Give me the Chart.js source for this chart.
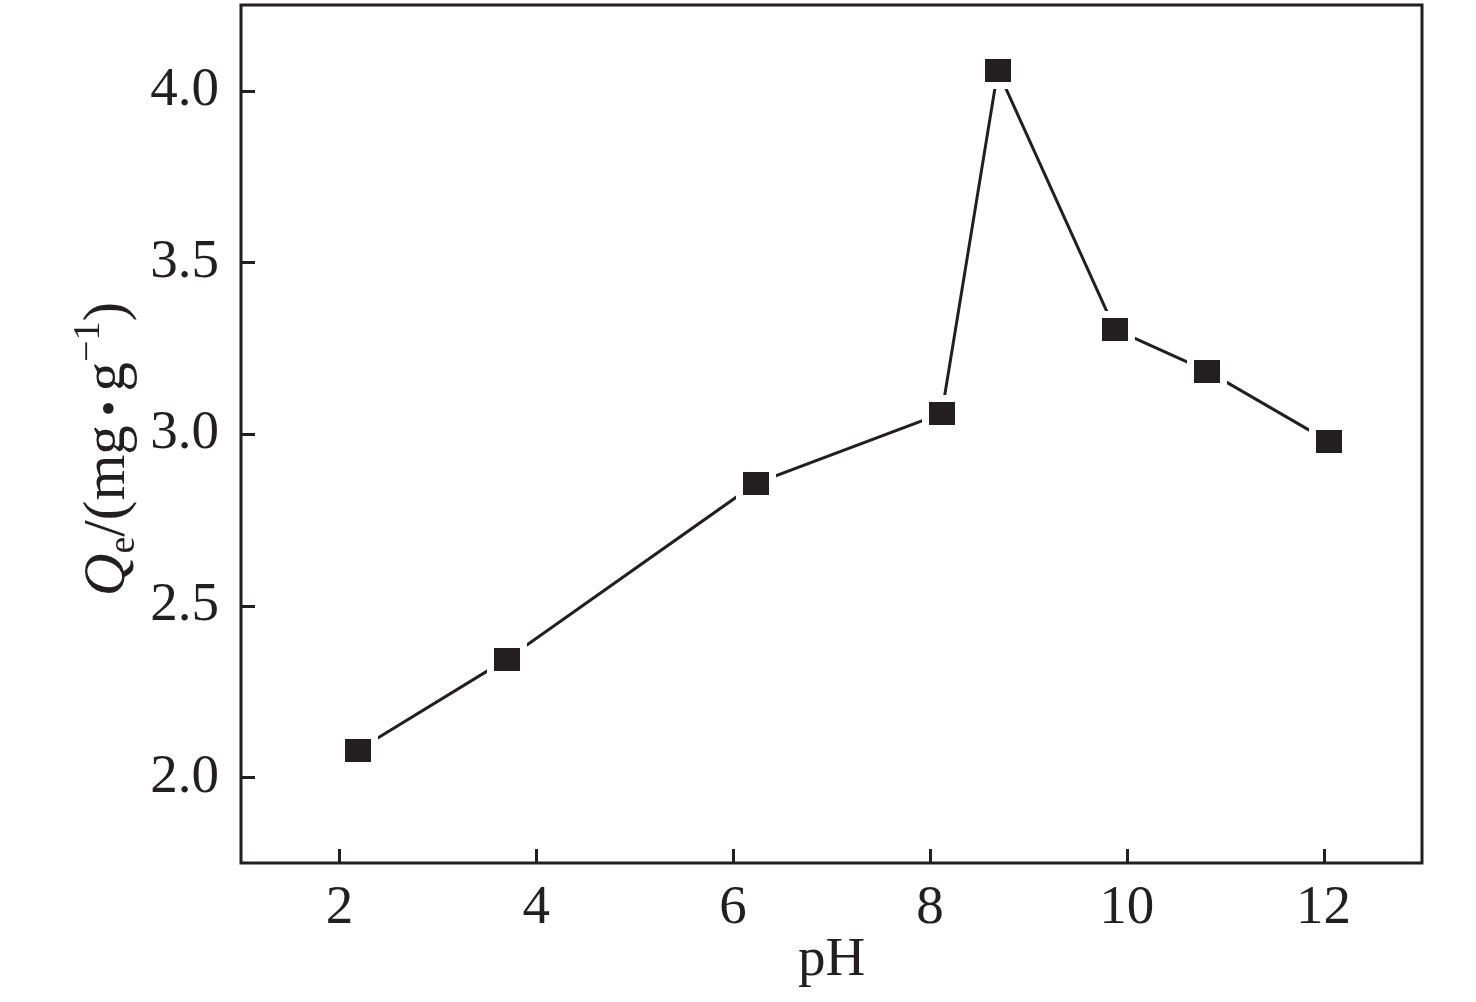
<!DOCTYPE html>
<html>
<head>
<meta charset="utf-8">
<script src="https://cdn.jsdelivr.net/npm/chart.js@4.4.1/dist/chart.umd.min.js"></script>
<style>
  html, body { margin: 0; padding: 0; background: #ffffff; }
  #wrap { width: 1476px; height: 1002px; }
</style>
</head>
<body>
<div id="wrap"><canvas id="c" width="1476" height="1002"></canvas></div>
<script>
// ---- data ----
const pHValues = [2.19, 3.70, 6.23, 8.12, 8.69, 9.88, 10.82, 12.06];
const qeValues = [2.079, 2.344, 2.856, 3.060, 4.059, 3.305, 3.183, 2.977];
const xTickValues = [2, 4, 6, 8, 10, 12];
const yTickValues = [2.0, 2.5, 3.0, 3.5, 4.0];
const yTickLabels = ['2.0', '2.5', '3.0', '3.5', '4.0'];
const xTitle = 'pH';

const INK = '#231f20';
const FONT = "'Liberation Serif', 'Times New Roman', serif";

function makeRect(w, h, color) {
  const cv = document.createElement('canvas');
  cv.width = w; cv.height = h;
  const g = cv.getContext('2d');
  g.fillStyle = color;
  g.fillRect(0, 0, w, h);
  return cv;
}
const markerImg = makeRect(26, 23, INK);
const haloImg = makeRect(40, 37, '#ffffff');

const points = pHValues.map((x, i) => ({ x: x, y: qeValues[i] }));

const framePlugin = {
  id: 'frameAndTicks',
  afterDraw(chart) {
    const { ctx, chartArea: a, scales } = chart;
    ctx.save();
    ctx.strokeStyle = INK;
    ctx.lineWidth = 3;
    ctx.strokeRect(a.left, a.top, a.right - a.left, a.bottom - a.top);
    const TL = 14;
    ctx.beginPath();
    scales.x.ticks.forEach(t => {
      const px = Math.round(scales.x.getPixelForValue(t.value)) + 0.5;
      ctx.moveTo(px, a.bottom);
      ctx.lineTo(px, a.bottom - TL);
    });
    scales.y.ticks.forEach(t => {
      const py = Math.round(scales.y.getPixelForValue(t.value)) + 0.5;
      ctx.moveTo(a.left, py);
      ctx.lineTo(a.left + TL, py);
    });
    ctx.stroke();

    // y-axis title with italic Q, subscript e and superscript -1
    const cy = (a.top + a.bottom) / 2 + 15;
    const baseX = 124;
    const big = 59, small = 38;
    const parts = [
      { t: 'Q', f: 'italic ' + big + 'px ' + FONT, dy: 0 },
      { t: 'e', f: small + 'px ' + FONT, dy: 10 },
      { t: '/(mg', f: big + 'px ' + FONT, dy: 0 },
      { t: '\u2009\u2022\u2009', f: '45px ' + FONT, dy: -1 },
      { t: 'g', f: big + 'px ' + FONT, dy: 0 },
      { t: '\u22121', f: small + 'px ' + FONT, dy: -25 },
      { t: ')', f: big + 'px ' + FONT, dy: 0 }
    ];
    let total = 0;
    parts.forEach(p => { ctx.font = p.f; p.w = ctx.measureText(p.t).width; total += p.w; });
    ctx.translate(baseX, cy);
    ctx.rotate(-Math.PI / 2);
    ctx.fillStyle = INK;
    ctx.textBaseline = 'alphabetic';
    ctx.textAlign = 'left';
    let cx = -total / 2;
    parts.forEach(p => {
      ctx.font = p.f;
      ctx.fillText(p.t, cx, p.dy);
      cx += p.w;
    });
    ctx.restore();
  }
};

new Chart(document.getElementById('c'), {
  type: 'scatter',
  data: {
    datasets: [
      {
        data: points,
        showLine: true,
        borderColor: INK,
        borderWidth: 3,
        pointRadius: 0,
        order: 2
      },
      {
        data: points,
        showLine: false,
        pointStyle: haloImg,
        pointRadius: 10,
        order: 1
      },
      {
        data: points,
        showLine: false,
        pointStyle: markerImg,
        pointRadius: 10,
        order: 0
      }
    ]
  },
  options: {
    responsive: false,
    devicePixelRatio: 1,
    animation: false,
    events: [],
    layout: { autoPadding: false, padding: { top: 5, right: 54, left: 0, bottom: 0 } },
    plugins: { legend: { display: false }, tooltip: { enabled: false } },
    scales: {
      x: {
        type: 'linear',
        min: 1,
        max: 13,
        afterFit(s) { s.height = 139; s.paddingLeft = 0; s.paddingRight = 0; },
        afterBuildTicks(s) { s.ticks = xTickValues.map(v => ({ value: v })); },
        grid: { display: false, drawTicks: false },
        border: { display: false },
        ticks: {
          padding: 13,
          color: INK,
          font: { family: FONT, size: 55 },
          maxRotation: 0,
          callback: v => String(v)
        },
        title: {
          display: true,
          text: xTitle,
          color: INK,
          font: { family: FONT, size: 55 },
          padding: { top: 0, bottom: 8 }
        }
      },
      y: {
        type: 'linear',
        min: 1.75,
        max: 4.25,
        afterFit(s) { s.width = 241; s.paddingTop = 0; s.paddingBottom = 0; },
        afterBuildTicks(s) { s.ticks = yTickValues.map(v => ({ value: v })); },
        grid: { display: false, drawTicks: false },
        border: { display: false },
        ticks: {
          padding: 22,
          color: INK,
          font: { family: FONT, size: 55 },
          callback: (v) => {
            const i = yTickValues.indexOf(v);
            return i >= 0 ? yTickLabels[i] : '';
          }
        }
      }
    }
  },
  plugins: [framePlugin]
});
</script>
</body>
</html>
